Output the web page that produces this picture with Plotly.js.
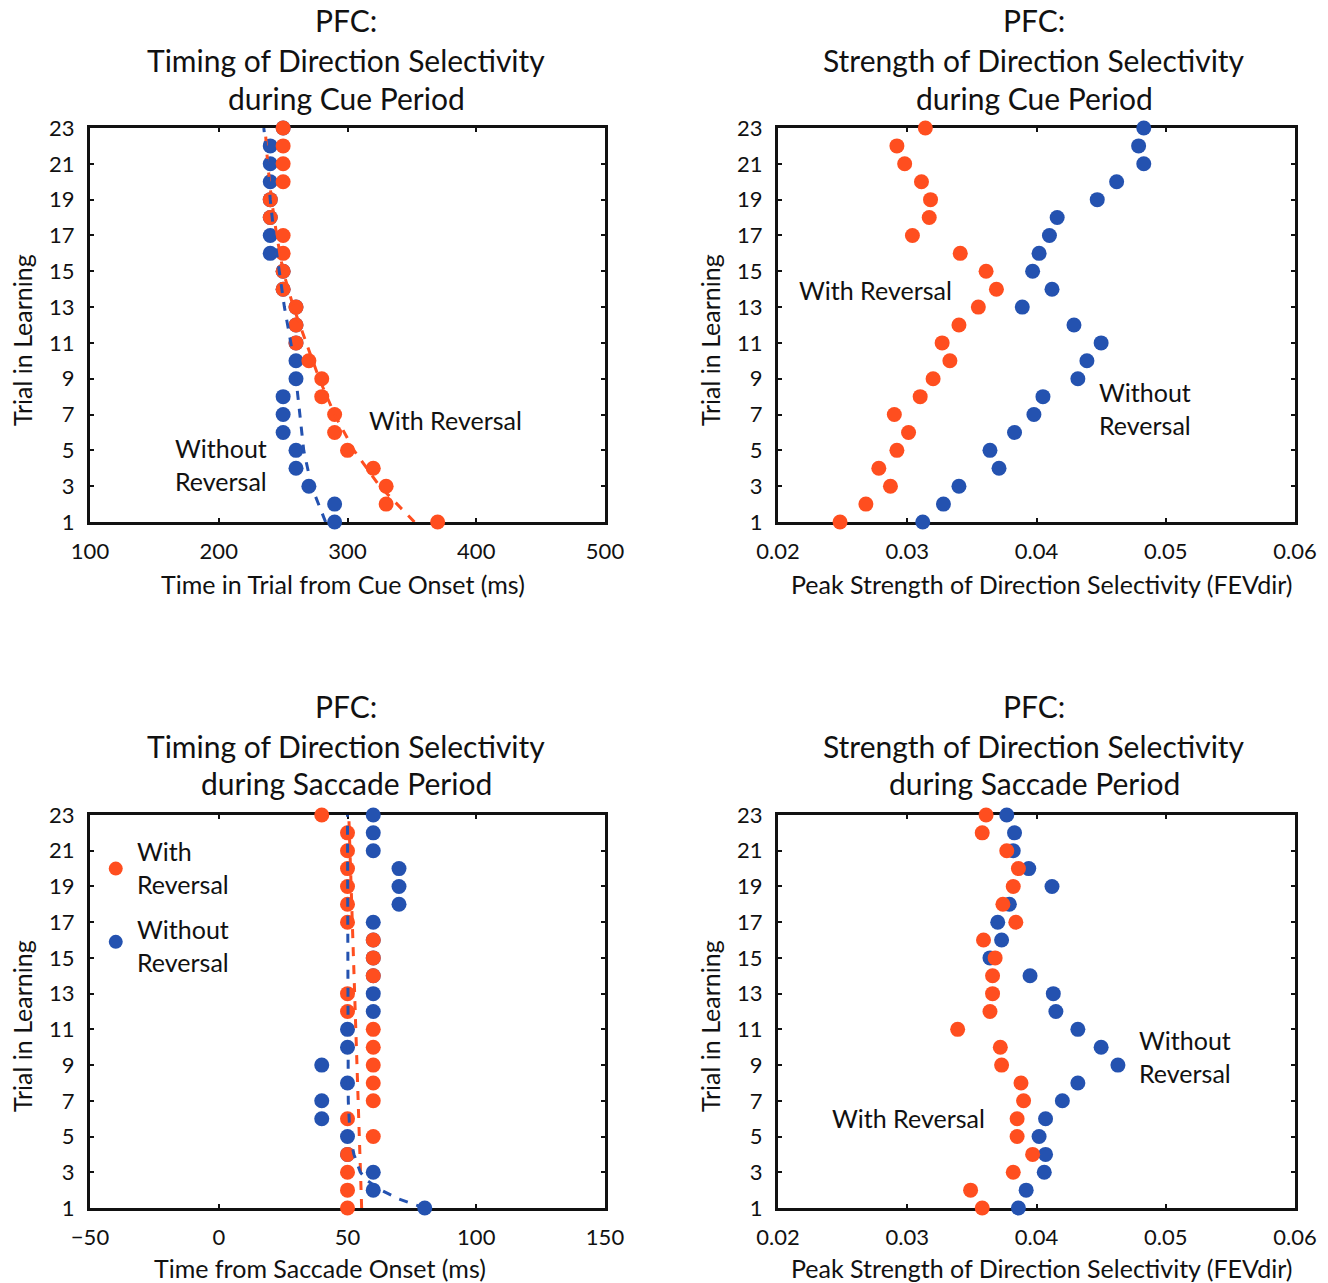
<!DOCTYPE html>
<html><head><meta charset="utf-8">
<script src="https://cdn.plot.ly/plotly-3.0.1.min.js"></script>
<style>body{margin:0;background:#fff}#chart{width:1328px;height:1283px}</style>
</head><body><div id="chart"></div>
<script>
// ---- data ----
const trials = [1,2,3,4,5,6,7,8,9,10,11,12,13,14,15,16,17,18,19,20,21,22,23];
const yTicks = [1,3,5,7,9,11,13,15,17,19,21,23];

// Panel A: timing, cue period (ms)
const cueTimeWith    = [370,330,330,320,300,290,290,280,280,270,260,260,260,250,250,250,250,240,240,250,250,250,250];
const cueTimeWithout = [290,290,270,260,260,250,250,250,260,260,260,260,260,250,250,240,240,240,240,240,240,240,250];
const cueTimeFitT       = [1,3,5,7,9,11,13,15,17,19,21,23];
const cueTimeFitWith    = [352,325,305,290,278,268,258,250,245,241,238,236];
const cueTimeFitWithout = [283,272,266,263,260,256,251,247,243,240,238,235];

// Panel B: strength, cue period (FEVdir)
const cueStrWith    = [0.0248,0.0268,0.0287,0.0278,0.0292,0.0301,0.0290,0.0310,0.0320,0.0333,0.0327,0.0340,0.0355,0.0369,0.0361,0.0341,0.0304,0.0317,0.0318,0.0311,0.0298,0.0292,0.0314];
const cueStrWithout = [0.0312,0.0328,0.0340,0.0371,0.0364,0.0383,0.0398,0.0405,0.0432,0.0439,0.0450,0.0429,0.0389,0.0412,0.0397,0.0402,0.0410,0.0416,0.0447,0.0462,0.0483,0.0479,0.0483];

// Panel C: timing, saccade period (ms)
const sacTimeWith    = [50,50,50,50,60,50,60,60,60,60,60,50,50,60,60,60,50,50,50,50,50,50,40];
const sacTimeWithout = [80,60,60,50,50,40,40,50,40,50,50,60,60,60,60,60,60,70,70,70,60,60,60];
const sacFitWithT    = [1,12,23];
const sacFitWith     = [55.5,53,50.5];
const sacFitWithoutT = [1,1.5,2,2.5,3,4,5,7,23];
const sacFitWithout  = [80,70,63,58,55,52.5,51,50.3,50];

// Panel D: strength, saccade period (FEVdir)
const sacStrWith    = [0.0358,0.0349,0.0382,0.0397,0.0385,0.0385,0.0390,0.0388,0.0373,0.0372,0.0339,0.0364,0.0366,0.0366,0.0368,0.0359,0.0384,0.0374,0.0382,0.0386,0.0377,0.0358,0.0361];
const sacStrWithout = [0.0386,0.0392,0.0406,0.0407,0.0402,0.0407,0.0420,0.0432,0.0463,0.0450,0.0432,0.0415,0.0413,0.0395,0.0364,0.0373,0.0370,0.0379,0.0412,0.0394,0.0382,0.0383,0.0377];

const RED = '#FF4E1F', BLUE = '#2452B0';
const FONT = 'Lato, "Open Sans", sans-serif';
const W = 1328, H = 1283;
const px = X => X / W, py = Y => 1 - Y / H;

function pts(x, y, color, xa, ya) {
  return {type:'scatter', mode:'markers', x:x, y:y, xaxis:xa, yaxis:ya,
    marker:{color:color, size:15, line:{width:0}}, cliponaxis:false, showlegend:false, hoverinfo:'skip'};
}
function fit(x, y, color, xa, ya) {
  return {type:'scatter', mode:'lines', x:x, y:y, xaxis:xa, yaxis:ya,
    line:{color:color, width:3, dash:'dash'}, cliponaxis:false, showlegend:false, hoverinfo:'skip'};
}

const traces = [
  pts(cueTimeWithout, trials, BLUE, 'x', 'y'),
  pts(cueTimeWith, trials, RED, 'x', 'y'),
  fit(cueTimeFitWith, cueTimeFitT, RED, 'x', 'y'),
  fit(cueTimeFitWithout, cueTimeFitT, BLUE, 'x', 'y'),
  pts(cueStrWithout, trials, BLUE, 'x2', 'y2'),
  pts(cueStrWith, trials, RED, 'x2', 'y2'),
  pts(sacTimeWithout, trials, BLUE, 'x3', 'y3'),
  pts(sacTimeWith, trials, RED, 'x3', 'y3'),
  fit(sacFitWith, sacFitWithT, RED, 'x3', 'y3'),
  fit(sacFitWithout, sacFitWithoutT, BLUE, 'x3', 'y3'),
  pts(sacStrWithout, trials, BLUE, 'x4', 'y4'),
  pts(sacStrWith, trials, RED, 'x4', 'y4'),
  // legend markers for panel C
  {type:'scatter', mode:'markers', x:[-40], y:[20], xaxis:'x3', yaxis:'y3', marker:{color:RED,size:14}, showlegend:false, hoverinfo:'skip'},
  {type:'scatter', mode:'markers', x:[-40], y:[15.9], xaxis:'x3', yaxis:'y3', marker:{color:BLUE,size:14}, showlegend:false, hoverinfo:'skip'}
];

const tickFont = {family:FONT, size:22, color:'#111'};
function xax(dom, range, tickvals, ticktext, anchor) {
  return {domain:dom, range:range, tickvals:tickvals, ticktext:ticktext, anchor:anchor,
    showline:true, linewidth:3, linecolor:'#111', mirror:'ticks', ticks:'inside', ticklen:4, tickwidth:2, tickcolor:'#111',
    showgrid:false, zeroline:false, tickfont:tickFont, layer:'below traces', fixedrange:true, ticklabelstandoff:8};
}
function yax(dom, anchor) {
  return {domain:dom, range:[1,23], tickvals:yTicks, anchor:anchor,
    showline:true, linewidth:3, linecolor:'#111', mirror:'ticks', ticks:'inside', ticklen:4, tickwidth:2, tickcolor:'#111',
    showgrid:false, zeroline:false, tickfont:tickFont, layer:'below traces', fixedrange:true, ticklabelstandoff:8};
}
const xL = [px(90), px(605)], xR = [px(778), px(1295)];
const yT = [py(522), py(128)], yB = [py(1208), py(815)];

const strTicks = [0.02,0.03,0.04,0.05,0.06];
const strText = ['0.02','0.03','0.04','0.05','0.06'];

function ann(text, X, Y, size, opts) {
  return Object.assign({xref:'paper', yref:'paper', x:px(X), y:py(Y), text:text, showarrow:false,
    font:{family:FONT, size:size, color:'#111'}, xanchor:'center', yanchor:'middle'}, opts||{});
}
const TS = 30, LS = 25;
const annotations = [
  ann('PFC:', 346, 20, TS), ann('Timing of Direction Selectivity', 346, 60, TS), ann('during Cue Period', 346, 98, TS),
  ann('PFC:', 1034, 20, TS), ann('Strength of Direction Selectivity', 1034, 60, TS), ann('during Cue Period', 1034, 98, TS),
  ann('PFC:', 346, 706, TS), ann('Timing of Direction Selectivity', 346, 746, TS), ann('during Saccade Period', 346, 783, TS),
  ann('PFC:', 1034, 706, TS), ann('Strength of Direction Selectivity', 1034, 746, TS), ann('during Saccade Period', 1034, 783, TS),
  ann('Time in Trial from Cue Onset (ms)', 343, 584, LS),
  ann('Peak Strength of Direction Selectivity (FEVdir)', 1041, 584, LS),
  ann('Time from Saccade Onset (ms)', 320, 1268, LS),
  ann('Peak Strength of Direction Selectivity (FEVdir)', 1041, 1268, LS),
  ann('Trial in Learning', 22, 340, LS, {textangle:-90}),
  ann('Trial in Learning', 710, 340, LS, {textangle:-90}),
  ann('Trial in Learning', 22, 1026, LS, {textangle:-90}),
  ann('Trial in Learning', 710, 1026, LS, {textangle:-90}),
  // in-plot labels
  ann('With Reversal', 367, 420, LS, {xanchor:'left'}),
  ann('Without<br>Reversal', 173, 464, LS, {xanchor:'left', align:'left'}),
  ann('With Reversal', 797, 290, LS, {xanchor:'left'}),
  ann('Without<br>Reversal', 1097, 408, LS, {xanchor:'left', align:'left'}),
  ann('With<br>Reversal', 135, 867, LS, {xanchor:'left', align:'left'}),
  ann('Without<br>Reversal', 135, 945, LS, {xanchor:'left', align:'left'}),
  ann('Without<br>Reversal', 1137, 1056, LS, {xanchor:'left', align:'left'}),
  ann('With Reversal', 830, 1118, LS, {xanchor:'left'})
];

const layout = {
  width:W, height:H, margin:{l:0,r:0,t:0,b:0}, paper_bgcolor:'#fff', plot_bgcolor:'#fff',
  font:{family:FONT, color:'#111'}, showlegend:false,
  xaxis: xax(xL, [100,500], [100,200,300,400,500], ['100','200','300','400','500'], 'y'),
  yaxis: yax(yT, 'x'),
  xaxis2: xax(xR, [0.02,0.06], strTicks, strText, 'y2'),
  yaxis2: yax(yT, 'x2'),
  xaxis3: xax(xL, [-50,150], [-50,0,50,100,150], ['\u221250','0','50','100','150'], 'y3'),
  yaxis3: yax(yB, 'x3'),
  xaxis4: xax(xR, [0.02,0.06], strTicks, strText, 'y4'),
  yaxis4: yax(yB, 'x4'),
  annotations: annotations
};
Plotly.newPlot('chart', traces, layout, {staticPlot:true, displayModeBar:false});
</script></body></html>
